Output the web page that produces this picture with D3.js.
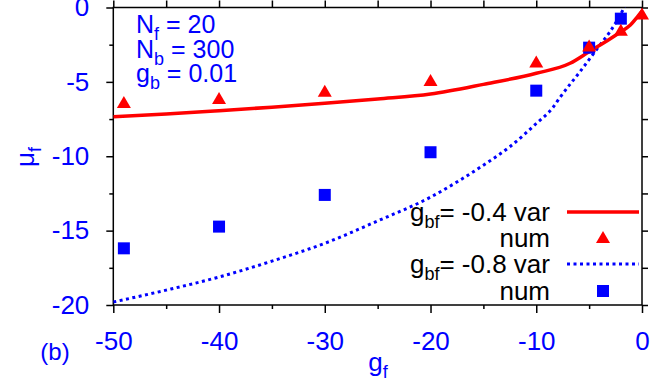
<!DOCTYPE html>
<html><head><meta charset="utf-8">
<script src="https://cdn.jsdelivr.net/npm/d3@7"></script>
<style>
body{margin:0;background:#fff;}
svg{display:block;font-family:"Liberation Sans",Arial,Helvetica,sans-serif;}
</style></head>
<body>
<svg id="chart" width="664" height="380"></svg>
<script>
// ---- data ----
const gf = [-49, -40, -30, -20, -10, -5, -2, 0];
const numA = [-6.42, -6.15, -5.66, -4.94, -3.69, -2.62, -1.56, -0.47];      // g_bf = -0.4 num (triangles)
const gfB = [-49, -40, -30, -20, -10, -5, -2];
const numB = [-16.19, -14.73, -12.6, -9.73, -5.59, -2.7, -0.75];            // g_bf = -0.8 num (squares)
const varAx = [-50, -45, -40, -35, -30, -25, -20, -15, -10, -6.8, -5, -3, -2, -1.1, -0.4, 0];
const varAy = [-7.34, -7.16, -6.94, -6.7, -6.44, -6.15, -5.82, -5.17, -4.42, -3.75, -2.97, -2.1, -1.63, -1.18, -0.6, -0.25];
const varBx = [-50, -45, -40, -35, -30, -25, -20, -17.2, -15, -12.5, -10, -8.4, -7.76, -5.87, -3.97, -3.03, -1.77, -1.4];
const varBy = [-19.8, -19.0, -18.12, -17.05, -15.85, -14.35, -12.75, -11.6, -10.6, -9.36, -7.8, -6.7, -6.05, -4.32, -2.52, -1.63, -0.12, 0.4];
const xMajor = [-50, -40, -30, -20, -10, 0];
const xMinor = [-45, -35, -25, -15, -5];
const yMajor = [-20, -15, -10, -5, 0];
const yMinor = [-17.5, -12.5, -7.5, -2.5];
const legendLabels = ["-0.4 var", "num", "-0.8 var", "num"];
const infoLines = [["N", "f", " = 20"], ["N", "b", " = 300"], ["g", "b", " = 0.01"]];

const RED = "#ff0000", BLUE = "#0000ff";
const svg = d3.select("#chart");
const L = 113.3, R = 642, T = 7.5, B = 305;
const x = d3.scaleLinear().domain([-50, 0]).range([L, R]);
const y = d3.scaleLinear().domain([-20, 0]).range([B, T]);

svg.append("clipPath").attr("id", "clip").append("rect")
  .attr("x", L).attr("y", T).attr("width", R - L).attr("height", B - T);

const fmt = d => String(d);
function styleAxis(g, labels) {
  g.select(".domain").remove();
  g.selectAll("line").attr("stroke", "#000").attr("stroke-width", 1.5);
  g.selectAll("text").attr("fill", BLUE).attr("font-size", 26)
    .attr("font-family", "'Liberation Sans', Arial, sans-serif");
  if (!labels) g.selectAll("text").remove();
}
// bottom
svg.append("g").attr("transform", `translate(0,${B})`)
  .call(d3.axisBottom(x).tickValues(xMajor).tickFormat(fmt).tickSize(8).tickPadding(19))
  .call(g => styleAxis(g, true));
svg.append("g").attr("transform", `translate(0,${B})`)
  .call(d3.axisBottom(x).tickValues(xMinor).tickSize(4))
  .call(g => styleAxis(g, false));
// top
svg.append("g").attr("transform", `translate(0,${T})`)
  .call(d3.axisTop(x).tickValues(xMajor.concat(xMinor)).tickSize(7))
  .call(g => styleAxis(g, false));
// left
svg.append("g").attr("transform", `translate(${L},0)`)
  .call(d3.axisLeft(y).tickValues(yMajor).tickFormat(fmt).tickSize(7).tickPadding(17))
  .call(g => styleAxis(g, true));
svg.append("g").attr("transform", `translate(${L},0)`)
  .call(d3.axisLeft(y).tickValues(yMinor).tickSize(4))
  .call(g => styleAxis(g, false));
// right
svg.append("g").attr("transform", `translate(${R},0)`)
  .call(d3.axisRight(y).tickValues(yMajor.concat(yMinor)).tickSize(6))
  .call(g => styleAxis(g, false));

// frame
svg.append("rect").attr("x", L).attr("y", T).attr("width", R - L).attr("height", B - T)
  .attr("fill", "none").attr("stroke", "#000").attr("stroke-width", 1.5);

const plot = svg.append("g").attr("clip-path", "url(#clip)");
const line = d3.line().x(d => x(d[0])).y(d => y(d[1])).curve(d3.curveMonotoneX);

plot.append("path").datum(d3.zip(varBx, varBy)).attr("d", line)
  .attr("fill", "none").attr("stroke", BLUE).attr("stroke-width", 3)
  .attr("stroke-dasharray", "3,3.5");
plot.append("path").datum(d3.zip(varAx, varAy)).attr("d", line)
  .attr("fill", "none").attr("stroke", RED).attr("stroke-width", 3.5);

const triPath = "M0,-7L7,5L-7,5Z";
const markers = svg.append("g");
markers.selectAll(".sq").data(d3.zip(gfB, numB)).join("rect")
  .attr("x", d => x(d[0]) - 6).attr("y", d => y(d[1]) - 6)
  .attr("width", 12).attr("height", 12).attr("fill", BLUE);
markers.selectAll(".tri").data(d3.zip(gf, numA)).join("path")
  .attr("d", triPath).attr("transform", d => `translate(${x(d[0])},${y(d[1])})`)
  .attr("fill", RED);

// legend
const leg = svg.append("g");
const legY = [212, 238, 264, 291];
legendLabels.forEach((lab, i) => {
  const t = leg.append("text").attr("x", 550).attr("y", legY[i] + 9)
    .attr("text-anchor", "end").attr("font-size", 26).attr("fill", "#000");
  if (i % 2 === 0) {
    t.append("tspan").text("g");
    t.append("tspan").attr("font-size", 18).attr("dy", 7).text("bf");
    t.append("tspan").attr("dy", -7).text("= " + lab);
  } else {
    t.text(lab);
  }
});
leg.append("line").attr("x1", 567).attr("x2", 639).attr("y1", legY[0]).attr("y2", legY[0])
  .attr("stroke", RED).attr("stroke-width", 3.5);
leg.append("path").attr("d", triPath).attr("transform", `translate(603,${legY[1]})`).attr("fill", RED);
leg.append("line").attr("x1", 567).attr("x2", 639).attr("y1", legY[2]).attr("y2", legY[2])
  .attr("stroke", BLUE).attr("stroke-width", 3).attr("stroke-dasharray", "3,3.5");
leg.append("rect").attr("x", 597).attr("y", legY[3] - 6).attr("width", 12).attr("height", 12).attr("fill", BLUE);

// info text
infoLines.forEach((parts, i) => {
  const t = svg.append("text").attr("x", 136).attr("y", 33 + i * 24.5)
    .attr("font-size", 25).attr("fill", BLUE);
  t.append("tspan").text(parts[0]);
  t.append("tspan").attr("font-size", 18).attr("dy", 7).text(parts[1]);
  t.append("tspan").attr("dy", -7).text(parts[2]);
});

// axis titles
const xt = svg.append("text").attr("x", 378).attr("y", 371).attr("text-anchor", "middle")
  .attr("font-size", 26).attr("fill", BLUE);
xt.append("tspan").text("g");
xt.append("tspan").attr("font-size", 18).attr("dy", 7).text("f");

const yt = svg.append("text").attr("transform", "translate(34,157) rotate(-90)")
  .attr("text-anchor", "middle").attr("font-size", 26).attr("fill", BLUE);
yt.append("tspan").text("μ");
yt.append("tspan").attr("font-size", 18).attr("dy", 7).text("f");

svg.append("text").attr("x", 55).attr("y", 360).attr("text-anchor", "middle")
  .attr("font-size", 24).attr("fill", BLUE).text("(b)");
</script>
</body></html>
